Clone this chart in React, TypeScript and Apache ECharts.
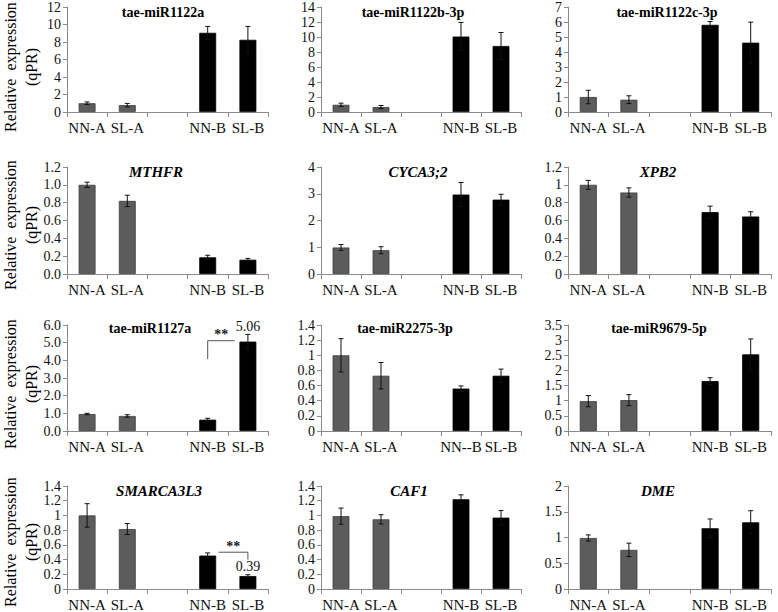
import React, { useEffect, useRef } from 'react';
import * as echarts from 'echarts';

// ---------- data ----------
const categories = ['NN-A', 'SL-A', '', 'NN-B', 'SL-B'];
const categoriesAlt = ['NN-A', 'SL-A', '', 'NN--B', 'SL-B'];
const barSlots = [0, 1, 3, 4];

const titles = ['tae-miR1122a', 'tae-miR1122b-3p', 'tae-miR1122c-3p', 'MTHFR', 'CYCA3;2', 'XPB2',
  'tae-miR1127a', 'tae-miR2275-3p', 'tae-miR9679-5p', 'SMARCA3L3', 'CAF1', 'DME'];
const italicTitles = [false, false, false, true, true, true, false, false, false, true, true, true];

const miR1122a = [1.0, 0.78, 9.05, 8.25];
const miR1122aErr = [0.15, 0.2, 0.73, 1.53];
const miR1122b = [0.96, 0.66, 10.06, 8.8];
const miR1122bErr = [0.22, 0.21, 1.88, 1.8];
const miR1122c = [1.0, 0.82, 5.81, 4.62];
const miR1122cErr = [0.45, 0.26, 0.22, 1.37];
const mthfr = [1.0, 0.82, 0.187, 0.16];
const mthfrErr = [0.03, 0.064, 0.023, 0.015];
const cyca32 = [0.99, 0.89, 2.97, 2.78];
const cyca32Err = [0.11, 0.13, 0.45, 0.2];
const xpb2 = [1.0, 0.914, 0.694, 0.645];
const xpb2Err = [0.05, 0.052, 0.067, 0.053];
const miR1127a = [0.96, 0.85, 0.64, 5.06];
const miR1127aErr = [0.04, 0.07, 0.08, 0.41];
const miR2275 = [1.0, 0.73, 0.56, 0.73];
const miR2275Err = [0.22, 0.175, 0.035, 0.088];
const miR9679 = [0.985, 1.02, 1.65, 2.53];
const miR9679Err = [0.185, 0.18, 0.11, 0.51];
const smarca = [1.0, 0.815, 0.454, 0.176];
const smarcaErr = [0.16, 0.075, 0.036, 0.018];
const caf1 = [0.99, 0.947, 1.22, 0.97];
const caf1Err = [0.11, 0.063, 0.06, 0.096];
const dme = [0.99, 0.76, 1.18, 1.295];
const dmeErr = [0.06, 0.13, 0.18, 0.225];

const panelValues = [miR1122a, miR1122b, miR1122c, mthfr, cyca32, xpb2, miR1127a, miR2275, miR9679, smarca, caf1, dme];
const panelErrors = [miR1122aErr, miR1122bErr, miR1122cErr, mthfrErr, cyca32Err, xpb2Err, miR1127aErr, miR2275Err, miR9679Err, smarcaErr, caf1Err, dmeErr];

const yMax = [12, 14, 7, 1.2, 4, 1.2, 6, 1.4, 3.5, 1.4, 1.4, 2];
const yStep = [2, 2, 1, 0.2, 1, 0.2, 1, 0.2, 0.5, 0.2, 0.2, 0.5];
const yOneDecimal = [false, false, false, true, false, false, true, false, false, false, false, false];

// significance annotations: panel, from category, to category, bracket level, bracket end, fold label
const sigPanels = [6, 9];
const sigFrom = [3, 3];
const sigTo = [4, 4];
const sigLevel = [5.11, 0.5];
const sigEnd = [4.07, 0.4];
const sigStub = ['left', 'right'];
const foldLabels = ['5.06', '0.39'];

const yTitle = 'Relative  expression\n(qPR)';

// ---------- layout ----------
const colLeft = [67, 321, 568];
const colWidth = [201, 200, 203];
const rowTop = [5, 167, 325, 486];
const rowHeight = [107, 107, 106, 106];
const titleX = [163, 413, 667, 156, 418, 658, 150, 405, 659, 159, 409, 658];
const titleY = [12, 172, 328, 491];
const yTitleY = [67, 225, 384, 542];

const FONT = "'Liberation Serif', 'Times New Roman', Times, 'DejaVu Serif', serif";
const GRAY = '#5c5c5c';

export default function App() {
  const ref = useRef<HTMLDivElement>(null);

  useEffect(() => {
    if (!ref.current) return;
    const chart = echarts.init(ref.current, undefined, { renderer: 'svg' });

    const grid: any[] = [];
    const xAxis: any[] = [];
    const yAxis: any[] = [];
    const series: any[] = [];
    const graphic: any[] = [];

    for (let p = 0; p < 12; p++) {
      const r = Math.floor(p / 3);
      const c = p % 3;
      grid.push({ left: colLeft[c], top: rowTop[r], width: colWidth[c], height: rowHeight[r], containLabel: false });
      xAxis.push({
        type: 'category',
        gridIndex: p,
        data: p === 7 ? categoriesAlt : categories,
        boundaryGap: true,
        axisLine: { show: true, lineStyle: { color: '#8a8a8a', width: 1 } },
        axisTick: { show: true, length: 5, interval: 0, lineStyle: { color: '#8a8a8a' } },
        axisLabel: { interval: 0, fontFamily: FONT, fontSize: 15, color: '#111', margin: 8 },
        splitLine: { show: false },
      });
      yAxis.push({
        type: 'value',
        gridIndex: p,
        min: 0,
        max: yMax[p],
        interval: yStep[p],
        axisLine: { show: true, lineStyle: { color: '#8a8a8a', width: 1 } },
        axisTick: { show: true, length: 4, lineStyle: { color: '#8a8a8a' } },
        axisLabel: {
          fontFamily: FONT, fontSize: 14, color: '#111', margin: 6,
          formatter: yOneDecimal[p]
            ? (v: number) => v.toFixed(1)
            : (v: number) => String(Math.round(v * 1000) / 1000),
        },
        splitLine: { show: false },
      });

      const vals = panelValues[p];
      const errs = panelErrors[p];
      const barData: any[] = ['-', '-', '-', '-', '-'];
      vals.forEach((v, i) => {
        barData[barSlots[i]] = {
          value: v,
          itemStyle: i < 2
            ? { color: GRAY, borderColor: '#3c3c3c', borderWidth: 0.8 }
            : { color: '#000', borderColor: '#000', borderWidth: 0.8 },
        };
      });
      series.push({
        type: 'bar',
        xAxisIndex: p,
        yAxisIndex: p,
        data: barData,
        barWidth: '42%',
        silent: true,
      });
      series.push({
        type: 'custom',
        xAxisIndex: p,
        yAxisIndex: p,
        z: 10,
        silent: true,
        encode: { x: 0, y: 1 },
        data: vals.map((v, i) => [barSlots[i], v, errs[i]]),
        renderItem: (params: any, api: any) => {
          const x = api.value(0);
          const v = api.value(1);
          const e = api.value(2);
          const top = api.coord([x, v + e]);
          const bot = api.coord([x, Math.max(0, v - e)]);
          const cap = 2.5;
          const st = { stroke: '#111', lineWidth: 1 };
          return {
            type: 'group',
            children: [
              { type: 'line', shape: { x1: top[0], y1: top[1], x2: bot[0], y2: bot[1] }, style: st },
              { type: 'line', shape: { x1: top[0] - cap, y1: top[1], x2: top[0] + cap, y2: top[1] }, style: st },
              { type: 'line', shape: { x1: bot[0] - cap, y1: bot[1], x2: bot[0] + cap, y2: bot[1] }, style: st },
            ],
          };
        },
      });

      graphic.push({
        type: 'text',
        x: titleX[p],
        y: titleY[r],
        silent: true,
        style: {
          text: titles[p],
          textAlign: 'center',
          textVerticalAlign: 'middle',
          fill: '#000',
          fontFamily: FONT,
          fontSize: italicTitles[p] ? 15 : 14,
          fontWeight: 'bold',
          fontStyle: italicTitles[p] ? 'italic' : 'normal',
        },
      });
    }

    // significance brackets and fold labels
    sigPanels.forEach((p, k) => {
      const vals = panelValues[p];
      const errs = panelErrors[p];
      const toIdx = barSlots.indexOf(sigTo[k]);
      series.push({
        type: 'custom',
        xAxisIndex: p,
        yAxisIndex: p,
        z: 11,
        silent: true,
        encode: { x: 0, y: 1 },
        data: [[sigFrom[k], sigLevel[k], sigTo[k], sigEnd[k], vals[toIdx] + errs[toIdx]]],
        renderItem: (params: any, api: any) => {
          const from = api.value(0);
          const level = api.value(1);
          const to = api.value(2);
          const end = api.value(3);
          const errTop = api.value(4);
          const band = api.size([1, 0])[0];
          const a = api.coord([from, level]);
          const b = api.coord([to, level]);
          const ls = { stroke: '#555', lineWidth: 1, fill: null };
          let pts: number[][];
          if (sigStub[k] === 'left') {
            const e = api.coord([from, end]);
            pts = [[a[0], e[1]], [a[0], a[1]], [b[0] - 0.33 * band, b[1]]];
          } else {
            const e = api.coord([to, end]);
            pts = [[a[0] + 0.27 * band, a[1]], [b[0], b[1]], [b[0], e[1]]];
          }
          const starX = sigStub[k] === 'left' ? (pts[1][0] + pts[2][0]) / 2 : (pts[0][0] + pts[1][0]) / 2;
          const lab = api.coord([to, errTop]);
          return {
            type: 'group',
            children: [
              { type: 'polyline', shape: { points: pts }, style: ls },
              {
                type: 'text', x: starX, y: a[1] + 1,
                style: { text: '**', textAlign: 'center', textVerticalAlign: 'bottom', fill: '#222', fontFamily: FONT, fontSize: 14, fontWeight: 'bold' },
              },
              {
                type: 'text', x: lab[0], y: lab[1] - 1,
                style: { text: foldLabels[k], textAlign: 'center', textVerticalAlign: 'bottom', fill: '#111', fontFamily: FONT, fontSize: 14 },
              },
            ],
          };
        },
      });
    });

    // y-axis titles
    for (let r = 0; r < 4; r++) {
      graphic.push({
        type: 'text',
        x: 21,
        y: yTitleY[r],
        rotation: Math.PI / 2,
        silent: true,
        style: {
          text: yTitle,
          textAlign: 'center',
          textVerticalAlign: 'middle',
          fill: '#000',
          fontFamily: FONT,
          fontSize: 16,
          lineHeight: 21,
        },
      });
    }

    chart.setOption({
      animation: false,
      backgroundColor: '#fff',
      grid,
      xAxis,
      yAxis,
      series,
      graphic,
    });

    return () => chart.dispose();
  }, []);

  return (
    <div
      ref={ref}
      style={{ position: 'absolute', left: 0, top: 0, width: 778, height: 612, background: '#fff' }}
    />
  );
}
